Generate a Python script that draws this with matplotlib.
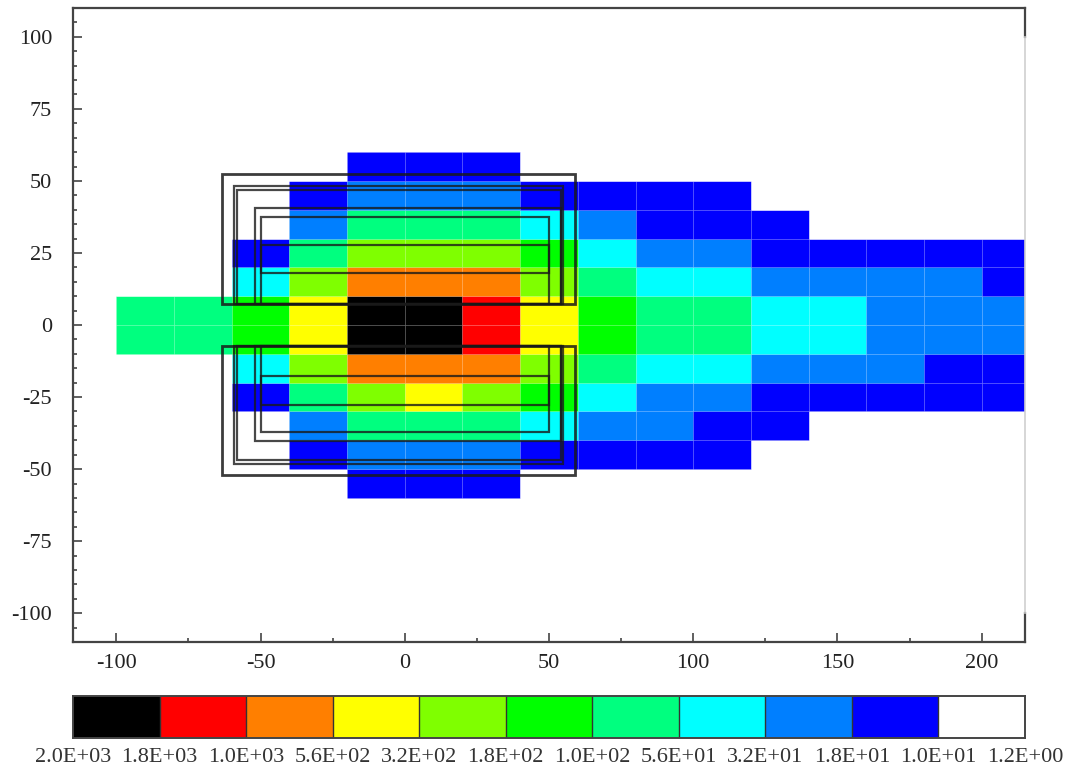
import numpy as np
import matplotlib
matplotlib.use("Agg")
import matplotlib.pyplot as plt
from matplotlib.colors import ListedColormap, BoundaryNorm
from matplotlib.patches import Rectangle
from matplotlib.ticker import MultipleLocator

W, H = 1065, 769
x_edges = [-100, -80, -60, -40, -20, 0, 20, 40, 60, 80, 100, 120, 140, 160, 180, 200, 220]
y_edges = [-60, -50, -40, -30, -20, -10, 0, 10, 20, 30, 40, 50, 60]
level_colors = ['#000000', '#ff0000', '#ff7f00', '#ffff00', '#7fff00', '#00ff00',
                '#00ff7f', '#00ffff', '#007fff', '#0000ff', '#ffffff']
level_labels = ['2.0E+03', '1.8E+03', '1.0E+03', '5.6E+02', '3.2E+02', '1.8E+02',
                '1.0E+02', '5.6E+01', '3.2E+01', '1.8E+01', '1.0E+01', '1.2E+00']
# level index of each cell, rows listed from the bottom (-60..-50) to the top (50..60)
row_m60 = [10, 10, 10, 10, 9, 9, 9, 10, 10, 10, 10, 10, 10, 10, 10, 10]
row_m50 = [10, 10, 10, 9, 8, 8, 8, 9, 9, 9, 9, 10, 10, 10, 10, 10]
row_m40 = [10, 10, 10, 8, 6, 6, 6, 7, 8, 8, 9, 9, 10, 10, 10, 10]
row_m30 = [10, 10, 9, 6, 4, 3, 4, 5, 7, 8, 8, 9, 9, 9, 9, 9]
row_m20 = [10, 10, 7, 4, 2, 2, 2, 4, 6, 7, 7, 8, 8, 8, 9, 9]
row_m10 = [6, 6, 5, 3, 0, 0, 1, 3, 5, 6, 6, 7, 7, 8, 8, 8]
row_p00 = [6, 6, 5, 3, 0, 0, 1, 3, 5, 6, 6, 7, 7, 8, 8, 8]
row_p10 = [10, 10, 7, 4, 2, 2, 2, 4, 6, 7, 7, 8, 8, 8, 8, 9]
row_p20 = [10, 10, 9, 6, 4, 4, 4, 5, 7, 8, 8, 9, 9, 9, 9, 9]
row_p30 = [10, 10, 10, 8, 6, 6, 6, 7, 8, 9, 9, 9, 10, 10, 10, 10]
row_p40 = [10, 10, 10, 9, 8, 8, 8, 9, 9, 9, 9, 10, 10, 10, 10, 10]
row_p50 = [10, 10, 10, 10, 9, 9, 9, 10, 10, 10, 10, 10, 10, 10, 10, 10]
grid = np.array([row_m60, row_m50, row_m40, row_m30, row_m20, row_m10,
                 row_p00, row_p10, row_p20, row_p30, row_p40, row_p50])
# outline rectangles: x0, x1, y0, y1
outer_rects = [(-63.3, 59, 7.3, 52.3), (-63.3, 59, -52.2, -7.2)]
mid_rects = [(-59.3, 55, 7.3, 48.3), (-58, 54, 7.3, 47), (-52, 54, 7.3, 40.7),
             (-50, 50, 7.3, 37.5), (-50, 50, 18, 27.7),
             (-59.3, 55, -48.3, -7.2), (-58, 54, -47, -7.2), (-52, 54, -40.4, -7.2),
             (-50, 50, -37.3, -7.2), (-50, 50, -27.7, -17.6)]

plt.rcParams['font.family'] = ['Liberation Serif', 'DejaVu Serif']
plt.rcParams['axes.unicode_minus'] = False
fig = plt.figure(figsize=(W / 100, H / 100), dpi=100)
ax = fig.add_axes([73 / W, 1 - 642 / H, (1025 - 73) / W, (642 - 8) / H])
cmap = ListedColormap(level_colors)
norm = BoundaryNorm(np.arange(-0.5, 11.5), cmap.N)
ax.pcolormesh(x_edges, y_edges, grid, cmap=cmap, norm=norm, edgecolors=(1, 1, 1, 0.06), linewidth=0.6, antialiased=True)
for x0, x1, y0, y1 in outer_rects:
    ax.add_patch(Rectangle((x0, y0), x1 - x0, y1 - y0, fill=False, ec='#1a1a1a', alpha=0.85, lw=2.0, zorder=3))
for x0, x1, y0, y1 in mid_rects:
    ax.add_patch(Rectangle((x0, y0), x1 - x0, y1 - y0, fill=False, ec='#1a1a1a', alpha=0.8, lw=1.6, zorder=3))
ax.set_xlim(-115, 215)
ax.set_ylim(-110, 110)
ax.xaxis.set_major_locator(MultipleLocator(50))
ax.xaxis.set_minor_locator(MultipleLocator(25))
ax.yaxis.set_major_locator(MultipleLocator(25))
ax.yaxis.set_minor_locator(MultipleLocator(5))
ax.tick_params(which='major', direction='in', length=6.5, width=1.2, color='#444444', labelsize=16, labelcolor='#222222')
ax.tick_params(which='minor', direction='in', length=3, width=1.2, color='#444444')
ax.tick_params(axis='x', which='major', pad=9)
ax.tick_params(axis='y', which='major', pad=15)
for s in ['top', 'left', 'bottom']:
    ax.spines[s].set_linewidth(1.6)
    ax.spines[s].set_color('#444444')
ax.spines['right'].set_visible(False)
ax.plot([215, 215], [100, 110], color='#444444', lw=1.6, clip_on=False, zorder=4)
ax.plot([215, 215], [-110, -100], color='#444444', lw=1.6, clip_on=False, zorder=4)
ax.plot([215, 215], [-100, 100], color='#cfcfcf', lw=1.2, clip_on=False, zorder=4)

cax = fig.add_axes([73 / W, 1 - 738 / H, (1025 - 73) / W, (738 - 696) / H])
n = len(level_colors)
cax.pcolormesh(np.arange(n + 1), [0, 1], np.arange(n)[None, :], cmap=cmap, norm=norm, edgecolors='none', antialiased=False)
cax.vlines(np.arange(1, n), 0, 1, color='#333333', lw=1.0)
cax.set_xlim(0, n)
cax.set_ylim(0, 1)
cax.set_yticks([])
cax.set_xticks(np.arange(n + 1))
cax.set_xticklabels(level_labels, fontsize=16, color='#333333')
cax.tick_params(axis='x', length=0, pad=7)
for s in cax.spines.values():
    s.set_linewidth(1.4)
    s.set_color('#444444')
fig.savefig('out.png', dpi=100)
